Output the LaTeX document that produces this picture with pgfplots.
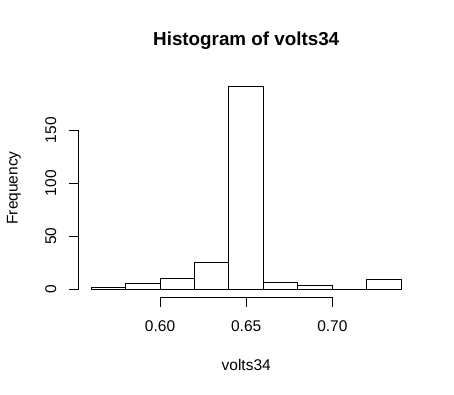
\documentclass[border=0pt]{standalone}
\usepackage{pgfplots}
\pgfplotsset{compat=1.18}
\usepackage{fontspec}
\setmainfont{Liberation Sans}
\newcommand{\lab}{\fontsize{15.5bp}{18bp}\selectfont}
\begin{document}
\begin{tikzpicture}
\path[use as bounding box] (0,0) rectangle (454bp,395bp);
\begin{axis}[
  at={(78.7bp,97.9bp)}, anchor=south west,
  scale only axis, width=335bp, height=218.4bp,
  xmin=0.5528, xmax=0.7472, ymin=-7.64, ymax=198.64,
  axis line style={draw=none},
  tick pos=left, tick align=outside,
  xtick={0.6,0.65,0.7}, ytick={0,50,100,150},
  xticklabels={}, yticklabels={},
  major tick length=9.6bp,
  every tick/.style={black, line width=1bp},
  clip=false,
]
\addplot[ybar interval, fill=white, draw=black, line width=1bp] coordinates {
  (0.56,1) (0.58,5) (0.60,10) (0.62,25) (0.64,191) (0.66,6) (0.68,3) (0.70,0) (0.72,9) (0.74,9)
};
\draw[line width=1bp] (axis cs:0.6,-7.64) -- (axis cs:0.7,-7.64);
\draw[line width=1bp] (axis cs:0.5528,0) -- (axis cs:0.5528,150);
\foreach \v/\t in {0.6/0.60,0.65/0.65,0.7/0.70}{
  \edef\tmp{\noexpand\node[anchor=base, inner sep=0pt, yshift=-34.6bp, font=\noexpand\lab] at (axis cs:\v,-7.64) {\t};}
  \tmp
}
\foreach \v in {0,50,100,150}{
  \edef\tmp{\noexpand\node[anchor=base, inner sep=0pt, rotate=90, font=\noexpand\lab] at ([xshift=-22.7bp]axis cs:0.5528,\v) {\v};}
  \tmp
}
\end{axis}
\node[anchor=base, inner sep=0pt, font=\fontsize{18.8bp}{22bp}\selectfont\bfseries] at (246.2bp,349bp) {Histogram of volts34};
\node[anchor=base, inner sep=0pt, font=\lab] at (246.2bp,25bp) {volts34};
\node[anchor=base, inner sep=0pt, rotate=90, font=\lab] at (17.7bp,207.1bp) {Frequency};
\end{tikzpicture}
\end{document}
